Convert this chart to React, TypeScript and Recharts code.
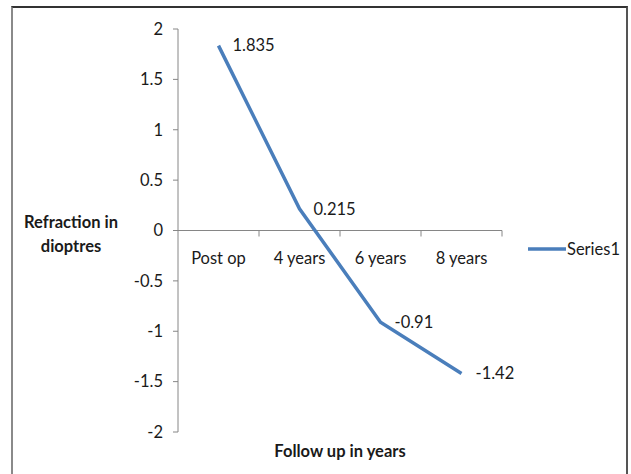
import React from 'react';
import { LineChart, Line, XAxis, YAxis, ReferenceLine, LabelList } from 'recharts';

const categories = ['Post op', '4 years', '6 years', '8 years'];
const series1 = [1.835, 0.215, -0.91, -1.42];
const yTicks = [-2, -1.5, -1, -0.5, 0, 0.5, 1, 1.5, 2];
const seriesName = 'Series1';

const data = categories.map((name, i) => ({ name, Series1: series1[i] }));

const FONT = 'Lato, "Open Sans", sans-serif';
const LINE_COLOR = '#4a7ebb';
const AXIS_COLOR = '#868686';
const TEXT_COLOR = '#1a1a1a';

const CategoryAxis = (props: any) => {
  const vb = props.viewBox || {};
  const x0 = vb.x ?? 0;
  const y0 = vb.y ?? 0;
  const w = vb.width ?? 0;
  const n = categories.length;
  const step = w / n;
  return (
    <g>
      <line x1={x0 - 4} x2={x0} y1={y0} y2={y0} stroke={AXIS_COLOR} strokeWidth={1} />
      {categories.map((c, i) => (
        <g key={c}>
          <line x1={x0 + step * (i + 1)} x2={x0 + step * (i + 1)} y1={y0} y2={y0 + 6} stroke={AXIS_COLOR} strokeWidth={1} />
          <text x={x0 + step * (i + 0.5)} y={y0 + 33} textAnchor="middle" fontFamily={FONT} fontSize={16.5} fill={TEXT_COLOR}>
            {c}
          </text>
        </g>
      ))}
    </g>
  );
};

const YTitle = () => {
  return (
    <text x={71} y={228} textAnchor="middle" fontFamily={FONT} fontSize={16.5} fontWeight="bold" fill={TEXT_COLOR}>
      <tspan x={71} y={228}>Refraction in</tspan>
      <tspan x={71} y={252}>dioptres</tspan>
    </text>
  );
};

const XTitle = (props: any) => {
  const vb = props.viewBox || {};
  return (
    <text x={(vb.x ?? 0) + (vb.width ?? 0) / 2} y={(vb.y ?? 0) + 25} textAnchor="middle" fontFamily={FONT} fontSize={16.5} fontWeight="bold" fill={TEXT_COLOR}>
      Follow up in years
    </text>
  );
};

export default function App() {
  return (
    <div style={{ position: 'absolute', left: 0, top: 0, width: 631, height: 474, background: '#fff' }}>
      <div
        style={{
          position: 'absolute',
          left: 11,
          top: 6,
          width: 613,
          height: 466,
          borderTop: '2px solid #333',
          borderLeft: '2px solid #8a8a8a',
          borderRight: '2px solid #555',
          borderBottom: '1px solid #ddd',
        }}
      />
      <div style={{ position: 'absolute', left: 0, top: 0 }}>
        <LineChart width={631} height={474} data={data} margin={{ top: 29, right: 129, bottom: 0, left: 0 }}>
          <XAxis
            dataKey="name"
            scale="band"
            height={42}
            axisLine={false}
            tickLine={false}
            tick={false}
            label={{ content: XTitle }}
          />
          <YAxis
            width={178}
            domain={[-2, 2]}
            ticks={yTicks}
            interval={0}
            tickSize={5}
            tickMargin={10}
            stroke={AXIS_COLOR}
            tick={{ fill: TEXT_COLOR, fontFamily: FONT, fontSize: 16.5 }}
            tickFormatter={(v: number) => String(v)}
            label={{ content: YTitle }}
          />
          <ReferenceLine y={0} stroke={AXIS_COLOR} strokeWidth={1} label={{ content: CategoryAxis }} ifOverflow="visible" />
          <Line
            type="linear"
            dataKey="Series1"
            name={seriesName}
            stroke={LINE_COLOR}
            strokeWidth={3.5}
            dot={false}
            activeDot={false}
            isAnimationActive={false}
          >
            <LabelList
              dataKey="Series1"
              position="right"
              offset={14}
              fill={TEXT_COLOR}
              fontFamily={FONT}
              fontSize={16.5}
            />
          </Line>
        </LineChart>
      </div>
      <div
        style={{
          position: 'absolute',
          left: 528,
          top: 239,
          display: 'flex',
          alignItems: 'center',
          fontFamily: FONT,
          fontSize: 16.5,
          color: TEXT_COLOR,
          whiteSpace: 'nowrap',
          lineHeight: '20px',
        }}
      >
        <svg width={38} height={10} style={{ display: 'block' }}>
          <line x1={0} x2={38} y1={5} y2={5} stroke={LINE_COLOR} strokeWidth={3.5} />
        </svg>
        <span style={{ marginLeft: 1 }}>{seriesName}</span>
      </div>
    </div>
  );
}
